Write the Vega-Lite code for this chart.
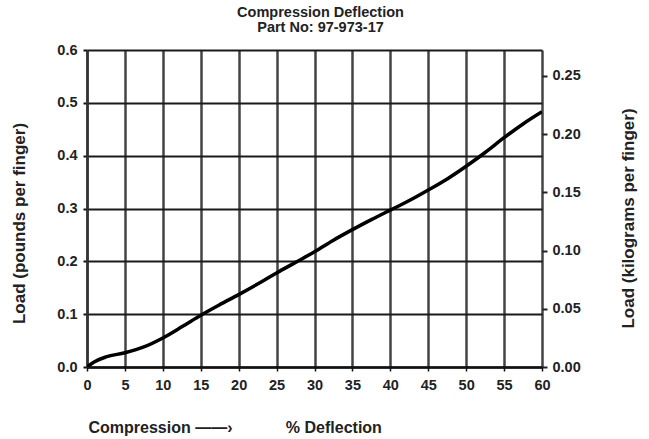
{
  "$schema": "https://vega.github.io/schema/vega-lite/v6.json",
  "width": 455,
  "height": 317,
  "autosize": {"type": "none"},
  "padding": {"left": 87, "top": 50, "right": 107, "bottom": 72},
  "background": "white",
  "title": {
    "text": ["Compression Deflection", "Part No: 97-973-17"],
    "font": "Liberation Sans",
    "fontSize": 14.5,
    "fontWeight": "bold",
    "color": "#222",
    "anchor": "middle",
    "lineHeight": 15,
    "offset": 7,
    "dx": 6
  },
  "config": {
    "view": {"stroke": null},
    "axis": {
      "labelFont": "Liberation Sans",
      "labelFontSize": 14.5,
      "labelFontWeight": "bold",
      "labelColor": "#222",
      "labelOverlap": false,
      "titleFont": "Liberation Sans",
      "titleFontWeight": "bold",
      "titleColor": "#222"
    }
  },
  "data": {
    "values": [
      {"deflection": 0, "load": 0.0},
      {"deflection": 1, "load": 0.01},
      {"deflection": 2.5, "load": 0.019},
      {"deflection": 5, "load": 0.027},
      {"deflection": 7.5, "load": 0.038},
      {"deflection": 10, "load": 0.055},
      {"deflection": 12.5, "load": 0.076},
      {"deflection": 15, "load": 0.098},
      {"deflection": 17.5, "load": 0.118},
      {"deflection": 20, "load": 0.137},
      {"deflection": 22.5, "load": 0.157},
      {"deflection": 25, "load": 0.178},
      {"deflection": 27.5, "load": 0.198},
      {"deflection": 30, "load": 0.218},
      {"deflection": 32.5, "load": 0.24},
      {"deflection": 35, "load": 0.26},
      {"deflection": 37.5, "load": 0.279},
      {"deflection": 40, "load": 0.297},
      {"deflection": 42.5, "load": 0.315},
      {"deflection": 45, "load": 0.335},
      {"deflection": 47.5, "load": 0.356},
      {"deflection": 50, "load": 0.38},
      {"deflection": 52.5, "load": 0.406},
      {"deflection": 55, "load": 0.434},
      {"deflection": 57.5, "load": 0.46},
      {"deflection": 60, "load": 0.483}
    ]
  },
  "encoding": {
    "x": {
      "field": "deflection",
      "type": "quantitative",
      "scale": {"domain": [0, 60], "nice": false, "zero": false},
      "axis": {
        "values": [0, 5, 10, 15, 20, 25, 30, 35, 40, 45, 50, 55, 60],
        "grid": true,
        "gridColor": "#444",
        "gridWidth": 2.5,
        "domain": true,
        "domainColor": "#111",
        "domainWidth": 2.5,
        "ticks": true,
        "tickSize": 4,
        "tickColor": "#111",
        "tickWidth": 1.5,
        "labelPadding": 7,
        "labelFlush": false,
        "labelOverlap": false,
        "title": "Compression ——›\u00a0\u00a0\u00a0\u00a0\u00a0\u00a0\u00a0\u00a0\u00a0\u00a0\u00a0\u00a0% Deflection",
        "titleFontSize": 16,
        "titleAnchor": "start",
        "titleAlign": "left",
        "titleBaseline": "alphabetic",
        "titleX": 1,
        "titleY": 65
      }
    }
  },
  "layer": [
    {
      "mark": {"type": "line", "color": "black", "strokeWidth": 3.5, "interpolate": "monotone", "clip": true},
      "encoding": {
        "y": {
          "field": "load",
          "type": "quantitative",
          "scale": {"domain": [0, 0.6], "nice": false},
          "axis": {
            "values": [0, 0.1, 0.2, 0.3, 0.4, 0.5, 0.6],
            "format": ".1f",
            "grid": true,
            "gridColor": "#1a1a1a",
            "gridWidth": 2.2,
            "domain": true,
            "domainColor": "#333",
            "domainWidth": 2.5,
            "ticks": true,
            "tickSize": 4,
            "tickColor": "#111",
            "tickWidth": 2,
            "labelPadding": 6,
            "labelFlush": false,
            "title": "Load (pounds per finger)",
            "titleFontSize": 17,
            "titleAngle": -90,
            "titleAnchor": null,
            "titleAlign": "center",
            "titleBaseline": "middle",
            "titleX": -68,
            "titleY": 173
          }
        }
      }
    },
    {
      "mark": {"type": "line", "strokeOpacity": 0},
      "encoding": {
        "y": {
          "field": "load",
          "type": "quantitative",
          "scale": {"domain": [0, 0.6], "nice": false},
          "axis": {
            "orient": "right",
            "values": [0, 0.110231, 0.220462, 0.330693, 0.440925, 0.551156],
            "labelExpr": "format(datum.value * 0.45359237, '.2f')",
            "grid": false,
            "domain": false,
            "ticks": true,
            "tickSize": 5,
            "tickColor": "#222",
            "tickWidth": 2,
            "labelPadding": 5,
            "labelFlush": false,
            "title": "Load (kilograms per finger)",
            "titleFontSize": 17,
            "titleAngle": -90,
            "titleAnchor": null,
            "titleAlign": "center",
            "titleBaseline": "middle",
            "titleX": 86,
            "titleY": 168
          }
        }
      }
    }
  ],
  "resolve": {"scale": {"y": "independent"}, "axis": {"y": "independent"}}
}
